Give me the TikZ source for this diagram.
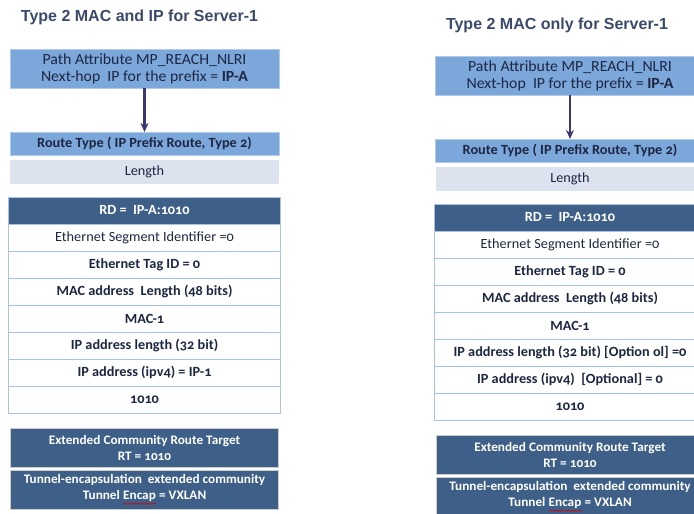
\documentclass[tikz,border=0pt]{standalone}
\usepackage{fontspec}
\setmainfont{Carlito}[Numbers=OldStyle,FakeStretch=1.02]
\newfontfamily\titlefont{Liberation Sans}
\usepackage{xcolor}
\usetikzlibrary{positioning,arrows.meta,decorations.pathmorphing}
\definecolor{TitleGray}{HTML}{3B4A6B}
\definecolor{MidBlue}{HTML}{7CA7DA}
\definecolor{PaleBlue}{HTML}{DCE3EE}
\definecolor{DarkBlue}{HTML}{3D5F88}
\definecolor{RowEdge}{HTML}{A9C3E6}
\definecolor{InkNavy}{HTML}{1D2742}
\definecolor{ArrNavy}{HTML}{3A3872}
\newcommand{\spellmark}[1]{\tikz[baseline=(w.base)]{\node[inner sep=0pt,outer sep=0pt,minimum width=0pt,minimum height=0pt,draw=none,fill=none] (w) {#1};
  \draw[red!85!black, line width=0.5pt, decorate, decoration={snake,amplitude=0.6pt,segment length=2.4pt}]
    ([yshift=-2.2pt]w.south west) -- ([yshift=-2.2pt]w.south east);}}
\tikzset{
  title/.style={font=\titlefont\bfseries\fontsize{16}{18}\selectfont,text=TitleGray,inner sep=0pt},
  field/.style={align=center,inner sep=0pt,outer sep=0pt,text=InkNavy,font=\fontsize{14}{16}\selectfont},
  attrbox/.style={field,fill=MidBlue,draw=MidBlue!60!white,line width=0.6pt,minimum width=269pt,minimum height=39pt,font=\fontsize{15.5}{17}\selectfont},
  typebox/.style={field,fill=MidBlue,draw=MidBlue!60!white,line width=0.6pt,minimum width=269pt,minimum height=23pt},
  lenbox/.style={field,fill=PaleBlue,minimum width=269pt,minimum height=24pt},
  headrow/.style={field,fill=DarkBlue,draw=RowEdge,line width=1pt,text=white,minimum width=272pt,minimum height=27pt,font=\bfseries\fontsize{14}{16}\selectfont},
  fieldrow/.style={field,fill=white,draw=RowEdge,line width=1pt,minimum width=272pt,minimum height=27pt},
  commbox/.style={field,fill=DarkBlue,draw=black!20,line width=0.8pt,text=white,minimum width=268pt,minimum height=39pt,font=\bfseries\fontsize{13}{16}\selectfont},
  arr/.style={-{Stealth[length=9pt,width=8pt]},line width=2.4pt,draw=ArrNavy}
}

\begin{document}
\begin{tikzpicture}[x=1pt,y=-1pt]
\clip (0,0) rectangle (694,514);
% left column: MAC and IP
\node[title] (ltitle) at (139.5,17) {Type 2 MAC and IP for Server-1};
\node[attrbox] (lpath) at (144.5,68.5) {Path Attribute MP\_REACH\_NLRI\\Next-hop\ \ IP for the prefix = \textbf{IP-A}};
\node[typebox, below=44pt of lpath] (lroute) {\textbf{Route Type ( IP Prefix Route, Type 2)}};
\node[lenbox, below=5pt of lroute] (llen) {Length};
\node[headrow, below=13pt of llen] (lrd) {RD =\ \ IP-A:1010};
\node[fieldrow, below=0pt of lrd] (lesi) {Ethernet Segment Identifier =0};
\node[fieldrow, below=0pt of lesi] (ltag) {\bfseries Ethernet Tag ID = 0};
\node[fieldrow, below=0pt of ltag] (lmaclen) {\bfseries MAC address\ \ Length (48 bits)};
\node[fieldrow, below=0pt of lmaclen] (lmac) {\bfseries MAC-1};
\node[fieldrow, below=0pt of lmac] (liplen) {\bfseries IP address length (32 bit)};
\node[fieldrow, below=0pt of liplen] (lip) {\bfseries IP address (ipv4) = IP-1};
\node[fieldrow, below=0pt of lip] (lval) {\bfseries 1010};
\node[commbox, below=15pt of lval] (lrt) {Extended Community Route Target\\RT = 1010};
\node[commbox, below=3pt of lrt] (lencap) {Tunnel-encapsulation\ \ extended community\\Tunnel \spellmark{Encap} = VXLAN};
\draw[arr] (lpath) -- (lroute);

% right column: MAC only
\node[title] (rtitle) at (557,25) {Type 2 MAC only for Server-1};
\node[attrbox] (rpath) at (570,75.5) {Path Attribute MP\_REACH\_NLRI\\Next-hop\ \ IP for the prefix = \textbf{IP-A}};
\node[typebox, below=44pt of rpath] (rroute) {\textbf{Route Type ( IP Prefix Route, Type 2)}};
\node[lenbox, below=5pt of rroute] (rlen) {Length};
\node[headrow, below=13pt of rlen] (rrd) {RD =\ \ IP-A:1010};
\node[fieldrow, below=0pt of rrd] (resi) {Ethernet Segment Identifier =0};
\node[fieldrow, below=0pt of resi] (rtag) {\bfseries Ethernet Tag ID = 0};
\node[fieldrow, below=0pt of rtag] (rmaclen) {\bfseries MAC address\ \ Length (48 bits)};
\node[fieldrow, below=0pt of rmaclen] (rmac) {\bfseries MAC-1};
\node[fieldrow, below=0pt of rmac] (riplen) {\bfseries IP address length (32 bit) [Option ol] =0};
\node[fieldrow, below=0pt of riplen] (rip) {\bfseries IP address (ipv4)\ \ [Optional] = 0};
\node[fieldrow, below=0pt of rip] (rval) {\bfseries 1010};
\node[commbox, below=15pt of rval] (rrt) {Extended Community Route Target\\RT = 1010};
\node[commbox, below=3pt of rrt] (rencap) {Tunnel-encapsulation\ \ extended community\\Tunnel \spellmark{Encap} = VXLAN};
\draw[arr] (rpath) -- (rroute);
\end{tikzpicture}
\end{document}
